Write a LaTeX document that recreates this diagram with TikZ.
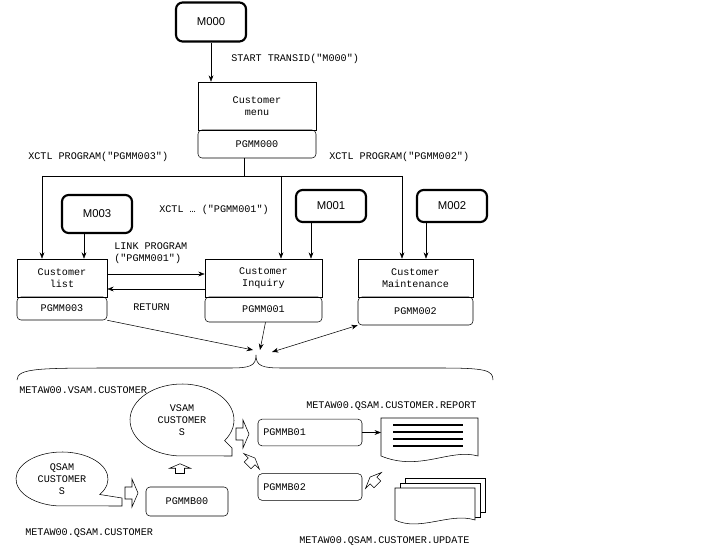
\documentclass[tikz,border=0pt]{standalone}
\usepackage{fontspec}
\setmainfont{Liberation Mono}
\newfontfamily\msgfont{Liberation Sans}
\usetikzlibrary{arrows.meta}
\newcommand\dq{\textquotedbl}

\tikzset{
  prog/.style={draw, rectangle, inner sep=0pt, font=\fontsize{7.6}{9}\selectfont, align=center},
  progname/.style={prog, rounded corners=3pt},
  mapbox/.style={draw, line width=1.6pt, rounded corners=5pt, inner sep=0pt,
    minimum width=52.5pt, font=\msgfont\fontsize{8.5}{10}\selectfont},
  lbl/.style={inner sep=0.75pt, font=\fontsize{7.6}{9}\selectfont, align=left},
  fat arrow/.pic={\draw[fill=white] (-6,-6) -- (1,-6) -- (1,-14) -- (7,0) -- (1,14) -- (1,6) -- (-6,6) -- cycle;}
}

\begin{document}
\begin{tikzpicture}[x=0.75pt,y=0.75pt,yscale=-1,xscale=1,>=Stealth]
\useasboundingbox (0,0) rectangle (720,552);
% maps
\node[mapbox, minimum height=29.25pt] (m000) at (211,22) {M000};
\node[mapbox, minimum height=28.5pt] (m003) at (97,214) {M003};
\node[mapbox, minimum height=24pt] (m001) at (331,206) {M001};
\node[mapbox, minimum height=24pt] (m002) at (452,206) {M002};
% programs
\node[prog, minimum width=88.5pt, minimum height=36pt] (menu) at (257,106) {Customer\\menu};
\node[progname, minimum width=88.5pt, minimum height=21pt] (pgmm000) at (257,144) {PGMM000};
\node[prog, minimum width=67.5pt, minimum height=28.5pt] (list) at (62,278) {Customer\\list};
\node[progname, minimum width=67.5pt, minimum height=17.25pt] (pgmm003) at (62,308.5) {PGMM003};
\node[prog, minimum width=87.75pt, minimum height=28.5pt] (inquiry) at (263.5,278) {Customer\\Inquiry};
\node[progname, minimum width=87.75pt, minimum height=18.75pt] (pgmm001) at (263.5,309.5) {PGMM001};
\node[prog, minimum width=86.25pt, minimum height=28.5pt] (maint) at (415.5,278) {Customer\\Maintenance};
\node[progname, minimum width=86.25pt, minimum height=21pt] (pgmm002) at (415.5,311) {PGMM002};

\draw[->] (m000.south) -- (m000.south |- menu.north);
\draw (230,59) node[lbl, anchor=west] {START TRANSID(\dq M000\dq)};
% xctl bus
\coordinate (bus) at (244,176);
\coordinate (b1) at (42,176);
\coordinate (b2) at (281,176);
\coordinate (b3) at (402,176);
\draw (pgmm000.south -| bus) -- (bus);
\draw (b1) -- (b3);
\draw[->] (b1) -- (b1 |- list.north);
\draw[->] (b2) -- (b2 |- inquiry.north);
\draw[->] (b3) -- (b3 |- maint.north);
\draw (27,157) node[lbl, anchor=west] {XCTL PROGRAM(\dq PGMM003\dq)};
\draw (328,157) node[lbl, anchor=west] {XCTL PROGRAM(\dq PGMM002\dq)};
\draw (158,210) node[lbl, anchor=west] {XCTL \dots{} (\dq PGMM001\dq)};

\draw[->] (84,0 |- m003.south) -- (84,0 |- list.north);
\draw[->] (311,0 |- m001.south) -- (311,0 |- inquiry.north);
\draw[->] (426,0 |- m002.south) -- (426,0 |- maint.north);

% link / return
\draw[->] (list.east |- 0,274) -- (inquiry.west |- 0,274);
\draw[->] (inquiry.west |- 0,289) -- (list.east |- 0,289);
\draw (113,253) node[lbl, anchor=west] {LINK PROGRAM\\(\dq PGMM001\dq)};
\draw (132,307) node[lbl, anchor=west] {RETURN};

% brace
\coordinate (tip) at (256,355);
\draw (17,380) .. controls (17,368) and (40,368) .. (120,368) -- (230,368)
  .. controls (250,368) and (256,366) .. (tip)
  .. controls (256,366) and (262,368) .. (282,368) -- (440,368)
  .. controls (485,368) and (493,370) .. (493,380);
\draw[->] (pgmm003.south east) -- (253,350);
\draw[->] (pgmm001.south) ++(2,0) -- (260,350);
\draw[<->] (272,352) -- (pgmm002.south west);

% batch part
\draw (18,390) node[lbl, anchor=west] {METAW00.VSAM.CUSTOMER};
\draw (305,406) node[lbl, anchor=west] {METAW00.QSAM.CUSTOMER.REPORT};
\draw (24,533) node[lbl, anchor=west] {METAW00.QSAM.CUSTOMER};
\draw (298,541) node[lbl, anchor=west] {METAW00.QSAM.CUSTOMER.UPDATE};

\draw (182,420) ++(35:52 and 36) arc[start angle=35, end angle=-265, x radius=52, y radius=36]
  -- (232,456) -- (232,448) -- cycle;
\node[lbl, align=center] (vsam) at (182,420) {VSAM\\CUSTOMER\\S};
\draw (62,479) ++(35:46 and 27) arc[start angle=35, end angle=-265, x radius=46, y radius=27]
  -- (122,506) -- (122,498) -- cycle;
\node[lbl, align=center] (qsam) at (62,479) {QSAM\\CUSTOMER\\S};

\node[progname, minimum width=61.5pt, minimum height=21.75pt] (pgmmb00) at (187,501.5) {PGMMB00};
\node[progname, minimum width=78pt, minimum height=20pt, text width=70pt, align=left] (pgmmb01) at (310,432.5) {PGMMB01};
\node[progname, minimum width=78pt, minimum height=20pt, text width=70pt, align=left] (pgmmb02) at (310,487) {PGMMB02};

\pic at (131,493) {fat arrow};
\pic[rotate=90, scale=0.75] at (180,469) {fat arrow};
\pic at (242,434) {fat arrow};
\pic[rotate=45, scale=0.8] at (251,462) {fat arrow};
\pic[rotate=135, scale=0.8] at (374,481) {fat arrow};

% report
\coordinate (report) at (381,418);
\draw (report) -- (478,418) -- (478,456) .. controls (450,448) and (420,472) .. (381,456) -- cycle;
\foreach \y in {425,432,439,446}
  \draw[line width=1.3pt] (393,\y) -- (463,\y);
\draw[->] (pgmmb01.east) -- (report |- pgmmb01.east);

% update file
\draw[fill=white] (405,478) rectangle (485,512);
\draw[fill=white] (400,483) rectangle (480,517);
\draw[fill=white] (395,488) -- (475,488) -- (475,520) .. controls (450,512) and (420,532) .. (395,520) -- cycle;
\end{tikzpicture}
\end{document}
